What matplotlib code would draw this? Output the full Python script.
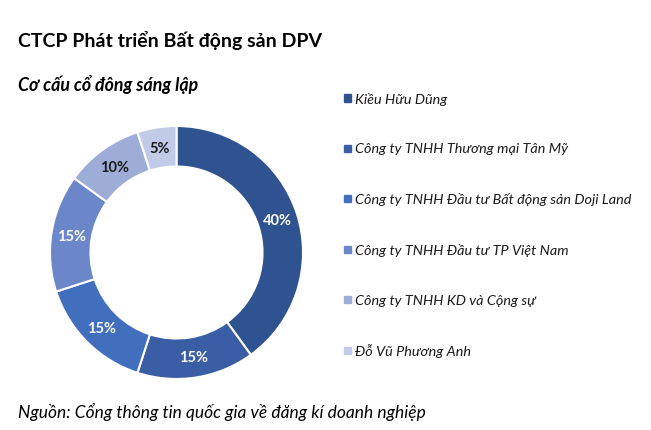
import matplotlib.pyplot as plt
from matplotlib.patches import Rectangle

plt.rcParams['font.family'] = ['Lato', 'DejaVu Sans']

shareholders = ['Kiều Hữu Dũng',
                'Công ty TNHH Thương mại Tân Mỹ',
                'Công ty TNHH Đầu tư Bất động sản Doji Land',
                'Công ty TNHH Đầu tư TP Việt Nam',
                'Công ty TNHH KD và Cộng sự',
                'Đỗ Vũ Phương Anh']
shares = [40, 15, 15, 15, 10, 5]
colors = ['#2f5290', '#3a5ea6', '#416fbd', '#6c87c9', '#9eacd8', '#c1cae6']
text_colors = ['white', 'white', 'white', 'white', '#1a1a1a', '#1a1a1a']

fig = plt.figure(figsize=(6.51, 4.31), dpi=100)

fig.text(18 / 651, 1 - 40 / 431, 'CTCP Phát triển Bất động sản DPV', fontsize=14, fontweight='bold',
         va='center', ha='left')
fig.text(18 / 651, 1 - 85 / 431, 'Cơ cấu cổ đông sáng lập', fontsize=12.8, fontweight='bold',
         fontstyle='italic', va='center', ha='left')
fig.text(18 / 651, 1 - 412 / 431, 'Nguồn: Cổng thông tin quốc gia về đăng kí doanh nghiệp', fontsize=12.5,
         fontstyle='italic', va='center', ha='left')

# donut
ax = fig.add_axes([50 / 651, 1 - 380 / 431, 253 / 651, 253 / 431])
wedges, texts, autotexts = ax.pie(shares, colors=colors, startangle=90, counterclock=False, radius=1,
                                  wedgeprops=dict(width=0.32, edgecolor='white', linewidth=1.5),
                                  autopct='%d%%', pctdistance=0.84,
                                  textprops=dict(fontsize=10.5, fontweight='bold'))
for t, c in zip(autotexts, text_colors):
    t.set_color(c)
ax.set_xlim(-1, 1)
ax.set_ylim(-1, 1)
ax.set_aspect('equal')
ax.axis('off')

# legend
y0 = 99
step = 50.4
for i, (name, col) in enumerate(zip(shareholders, colors)):
    yy = 1 - (y0 + i * step) / 431
    fig.patches.append(Rectangle((344 / 651, yy - 3.5 / 431), 7 / 651, 7 / 431, color=col,
                                 transform=fig.transFigure, figure=fig))
    fig.text(355 / 651, yy, name, fontsize=10.4, fontstyle='italic', va='center', ha='left', color='#1a1a1a')

fig.savefig('out.png', dpi=100)
